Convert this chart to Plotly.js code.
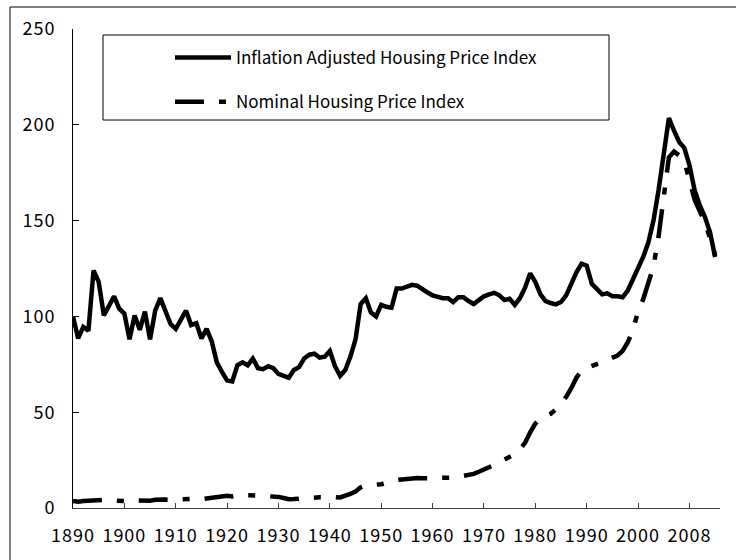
<!DOCTYPE html>
<html><head><meta charset="utf-8">
<script src="https://cdn.plot.ly/plotly-3.0.1.min.js"></script>
<style>
html,body{margin:0;padding:0;background:#fff;}
#chart{width:736px;height:560px;}
#chart .xtick text, #chart .ytick text { letter-spacing: 1px; }
</style>
</head><body><div id="chart"></div>
<script>
// x positions (years on a linear scale)
const years = [1890,1891,1892,1893,1894,1895,1896,1897,1898,1899,
1900,1901,1902,1903,1904,1905,1906,1907,1908,1909,
1910,1911,1912,1913,1914,1915,1916,1917,1918,1919,
1920,1921,1922,1923,1924,1925,1926,1927,1928,1929,
1930,1931,1932,1933,1934,1935,1936,1937,1938,1939,
1940,1941,1942,1943,1944,1945,1946,1947,1948,1949,
1950,1951,1952,1953,1954,1955,1956,1957,1958,1959,
1960,1961,1962,1963,1964,1965,1966,1967,1968,1969,
1970,1971,1972,1973,1974,1975,1976,1977,1978,1979,
1980,1981,1982,1983,1984,1985,1986,1987,1988,1989,
1990,1991,1992,1993,1994,1995,1996,1997,1998,1999,
2000,2001,2002,2003,2004,2005,2006,2007,2008,2009,
2010,2011,2012,2013,2014,2015];

const realIndex = [100,88.5,94.5,92.5,124,118,100.5,106,110.5,104,
101.5,88,100.5,93,102.5,88,103,109.5,102,96,
93.5,98.5,103,95.5,96.5,88.5,93.5,87,76,71,
66.5,66,74.5,76,74.5,78,73,72.5,74,73,
70,69,68,72,73.5,78,80,80.5,78.5,79,
82,74,69,72,79,88,106.5,109.5,102,100,
106,105,104.5,114.5,114.5,115.5,116.5,116,114,112.5,
111,110,109.5,109.5,107.5,110,110,108,106.5,108.5,
110.5,111.5,112.3,111,108.5,109.2,106,109.5,115,122.5,
118,111.5,108,107,106.3,107.5,111,117,123,127.5,
126.5,117,114.5,111.5,112,110.5,110.5,110,113.5,119,
125,131,138.5,150,166,185,203.5,197,191,188,
179,166,158,152,144,131];

const nominalIndex = [3.6,3.3,3.6,3.8,4.3,4.4,4.3,4.0,3.9,3.8,
3.9,3.5,4.0,3.8,4.0,3.8,4.3,4.6,4.4,4.3,
4.4,4.6,4.9,4.7,4.8,4.6,4.9,5.2,5.5,5.9,
6.4,6.0,6.5,6.8,6.6,6.8,6.5,6.3,6.3,6.2,
5.8,5.2,4.6,4.7,4.9,5.3,5.6,5.8,5.6,5.6,
5.8,5.6,5.5,6.2,7.4,8.6,10.8,11.8,12.0,11.8,
12.4,13.2,14.0,14.6,14.9,15.2,15.5,15.6,15.5,15.5,
15.4,15.4,15.5,15.7,15.9,16.3,16.7,17.1,17.8,18.9,
20.0,21.2,22.5,24.0,25.4,26.5,28.0,30.5,34.0,39.5,
44.0,47.0,48.3,49.2,51.5,54.5,58.0,62.5,68.0,72.0,
73.0,73.8,75.0,76.2,77.3,78.5,79.6,82.0,86.5,93.0,
102.5,109.0,118.0,126.0,142.0,162.0,183.0,186.0,184.0,181.0,
172.0,161.0,155.0,149.0,141.0,132.0];

const xTickPositions = [1890,1900,1910,1920,1930,1940,1950,1960,1970,1980,1990,2000,2010];
const xTickLabels = ['1890','1900','1910','1920','1930','1940','1950','1960','1970','1980','1990','2000','2008'];
const yTickValues = [0,50,100,150,200,250];

const seriesNames = ['Inflation Adjusted Housing Price Index','Nominal Housing Price Index'];

const FONT = "'Noto Sans CJK JP', 'Liberation Sans', sans-serif";

const traces = [
  {x: years, y: realIndex, name: seriesNames[0], type: 'scatter', mode: 'lines',
   legendgroup: 'g1', line: {color: '#000', width: 4.5, shape: 'linear'}, hoverinfo: 'skip'},
  {x: years, y: nominalIndex, name: seriesNames[1], type: 'scatter', mode: 'lines',
   legendgroup: 'g2', line: {color: '#000', width: 4.5, dash: '29px,15px,7px,15px'}, hoverinfo: 'skip'}
];

const L = 73, R = 16, T = 29, B = 52, W = 736, H = 560;
const pw = W - L - R, ph = H - T - B;
const px = v => (v - L) / pw;
const py = v => (H - B - v) / ph;

const layout = {
  width: W, height: H,
  margin: {l: L, r: R, t: T, b: B, pad: 0},
  paper_bgcolor: '#fff', plot_bgcolor: '#fff',
  font: {family: FONT, color: '#000', size: 14},
  showlegend: true,
  legend: {x: px(170), y: py(40), xanchor: 'left', yanchor: 'top',
    bgcolor: 'rgba(0,0,0,0)', borderwidth: 0, itemwidth: 56, tracegroupgap: 19,
    traceorder: 'grouped', font: {family: FONT, size: 17, color: '#000'}},
  xaxis: {range: [1890, 2015.95], tickmode: 'array', tickvals: xTickPositions, ticktext: xTickLabels,
    ticks: 'inside', ticklen: 5, tickcolor: '#404040', tickwidth: 1,
    showline: true, linecolor: '#404040', linewidth: 1, showgrid: false, zeroline: false,
    tickfont: {family: FONT, size: 18, color: '#000'}, ticklabelstandoff: 11, fixedrange: true},
  yaxis: {range: [0, 250], tickmode: 'array', tickvals: yTickValues,
    ticks: 'inside', ticklen: 6, tickcolor: '#000', tickwidth: 1,
    showline: true, linecolor: '#000', linewidth: 1, showgrid: false, zeroline: false,
    tickfont: {family: FONT, size: 18, color: '#000'}, ticklabelstandoff: 13, fixedrange: true},
  shapes: [
    {type: 'rect', xref: 'paper', yref: 'paper', x0: px(10), x1: px(760), y0: py(580), y1: py(7),
     line: {color: '#000', width: 1}, fillcolor: 'rgba(0,0,0,0)', layer: 'above'},
    {type: 'rect', xref: 'paper', yref: 'paper', x0: px(103), x1: px(609), y0: py(120), y1: py(35),
     line: {color: '#000', width: 1}, fillcolor: 'rgba(0,0,0,0)', layer: 'above'}
  ]
};

Plotly.newPlot('chart', traces, layout, {staticPlot: true, displayModeBar: false});
</script>
</body></html>
